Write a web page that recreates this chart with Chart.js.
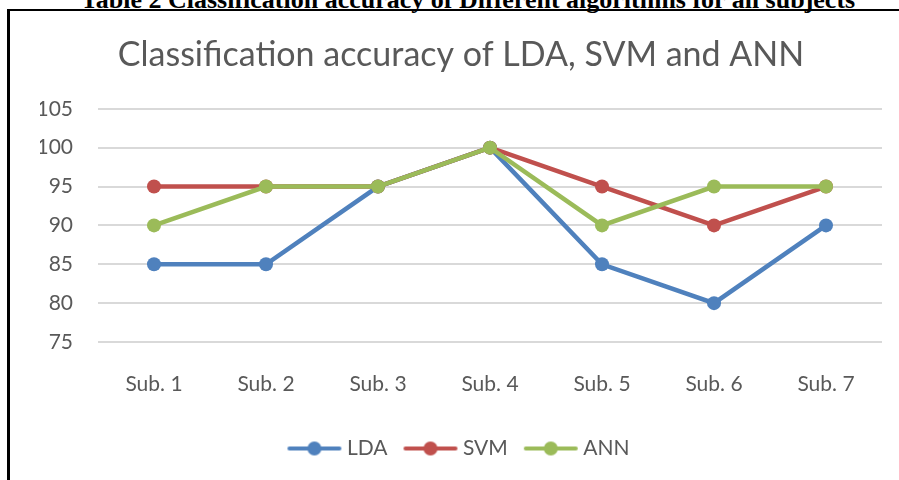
<!DOCTYPE html>
<html>
<head>
<meta charset="utf-8">
<script src="https://cdn.jsdelivr.net/npm/chart.js@4.4.0/dist/chart.umd.min.js"></script>
<style>
  html, body { margin: 0; padding: 0; background: #fff; }
  #wrap { position: relative; width: 899px; height: 480px; overflow: hidden; }
  #caption {
    position: absolute; left: 0; width: 936px; top: -15px; text-align: center; line-height: 26px;
    font: bold 26px "Liberation Serif", "DejaVu Serif", serif; color: #000; white-space: nowrap;
  }
  #frame {
    position: absolute; left: 7px; top: 9px; width: 900px; height: 500px;
    border-left: 3px solid #000; border-top: 2px solid #000;
  }
  canvas { position: absolute; left: 0; top: 0; }
</style>
</head>
<body>
<div id="wrap">
  <div id="caption">Table 2 Classification accuracy of Different algorithms for all subjects</div>
  <div id="frame"></div>
  <canvas id="chart" width="899" height="480"></canvas>
</div>
<script>
// Data
const subjects = ['Sub. 1', 'Sub. 2', 'Sub. 3', 'Sub. 4', 'Sub. 5', 'Sub. 6', 'Sub. 7'];
const ldaValues = [85, 85, 95, 100, 85, 80, 90];
const svmValues = [95, 95, 95, 100, 95, 90, 95];
const annValues = [90, 95, 95, 100, 90, 95, 95];
const seriesNames = ['LDA', 'SVM', 'ANN'];
const seriesColors = ['#4f81bd', '#c0504d', '#9bbb59'];

const textColor = '#595959';
const fontFamily = 'Lato, "Open Sans", sans-serif';

// legend marker: a short line with a dot on it
function legendMarker(color) {
    const c = document.createElement('canvas');
    c.width = 56;
    c.height = 16;
    const g = c.getContext('2d');
    g.strokeStyle = color;
    g.lineWidth = 4;
    g.lineCap = 'round';
    g.beginPath();
    g.moveTo(3, 8);
    g.lineTo(53, 8);
    g.stroke();
    g.fillStyle = color;
    g.beginPath();
    g.arc(28, 8, 7, 0, Math.PI * 2);
    g.fill();
    return c;
}

const markers = seriesColors.map(legendMarker);

const makeDataset = (i, values) => ({
    label: seriesNames[i],
    data: values,
    borderColor: seriesColors[i],
    backgroundColor: seriesColors[i],
    borderWidth: 4.5,
    pointRadius: 7,
    pointHoverRadius: 7,
    pointBorderWidth: 0,
    tension: 0,
    order: 3 - i   // later series drawn on top, like the original
});

const ctx = document.getElementById('chart').getContext('2d');
const chart = new Chart(ctx, {
    type: 'line',
    data: {
        labels: subjects,
        datasets: [
            makeDataset(0, ldaValues),
            makeDataset(1, svmValues),
            makeDataset(2, annValues)
        ]
    },
    options: {
        responsive: false,
        animation: false,
        layout: { padding: { top: 12, left: 40, right: 17, bottom: 11 } },
        plugins: {
            title: {
                display: true,
                text: 'Classification accuracy of LDA, SVM and ANN',
                color: textColor,
                font: { family: fontFamily, size: 34, weight: 'normal' },
                padding: { top: 22.5, bottom: 33.5 }
            },
            legend: {
                position: 'bottom',
                labels: {
                    color: textColor,
                    font: { family: fontFamily, size: 21 },
                    usePointStyle: true,
                    pointStyleWidth: 44,
                    padding: 21,
                    generateLabels: chart => chart.data.datasets.map((ds, i) => ({
                        text: ds.label,
                        fontColor: textColor,
                        pointStyle: markers[i],
                        datasetIndex: i,
                        hidden: false
                    }))
                }
            },
            tooltip: { enabled: false }
        },
        scales: {
            x: {
                offset: true,
                grid: { display: false, drawTicks: false },
                border: { display: false },
                ticks: {
                    color: textColor,
                    font: { family: fontFamily, size: 21 },
                    padding: 29.5
                },
                afterFit: scale => { scale.height = 75; }
            },
            y: {
                min: 75,
                max: 105,
                grid: { color: '#d9d9d9', lineWidth: 2, drawTicks: false },
                border: { display: false },
                ticks: {
                    stepSize: 5,
                    color: textColor,
                    font: { family: fontFamily, size: 21 },
                    padding: 25
                },
                afterFit: scale => { scale.width = 58; }
            }
        }
    }
});
</script>
</body>
</html>
